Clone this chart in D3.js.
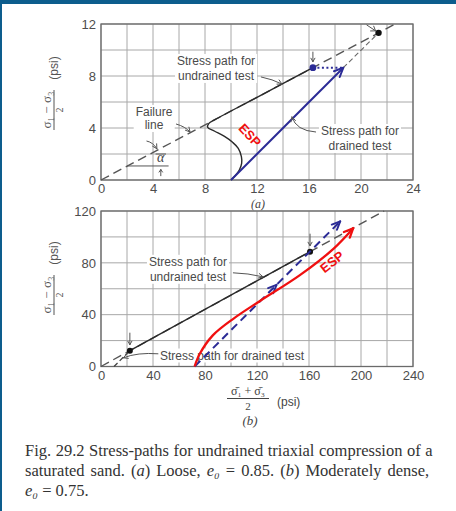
<!DOCTYPE html>
<html><head><meta charset="utf-8">
<script src="https://cdn.jsdelivr.net/npm/d3@7"></script>
<style>body{margin:0;background:#fff}svg{display:block}</style>
</head><body><svg id="c" width="456" height="511"></svg>
<script>
// ---- Panel (a): loose sand, e0 = 0.85 (psi) ----
const xTicksA = [0, 4, 8, 12, 16, 20, 24];
const yTicksA = [0, 4, 8, 12];
const failureA = [[0, 0], [22.64, 12]];
const undrainedA = [[10.0, 0], [10.31, 0.31], [10.64, 0.77], [10.82, 1.28], [10.8, 1.8], [10.56, 2.44],
  [10.12, 2.9], [9.5, 3.35], [8.75, 3.75], [8.2, 4.05], [8.3, 4.36], [8.8, 4.66], [12, 6.36], [16.3, 8.64]];
const drainedA = [[10, 0], [18.64, 8.64]];
const drainedExtA = [[18.64, 8.64], [21.35, 11.32]];
const shiftA = [[16.3, 8.64], [18.64, 8.64]];
const failUndrainedA = [16.3, 8.64];
const failDrainedA = [21.35, 11.32];

// ---- Panel (b): moderately dense sand, e0 = 0.75 (psi) ----
const xTicksB = [0, 40, 80, 120, 160, 200, 240];
const yTicksB = [0, 40, 80, 120];
const failureB = [[0, 0], [217.8, 120]];
const undrainedB = [[22.2, 12.2], [160.8, 88.6]];
const drainedB = [[10, 0], [22.2, 12.2]];
const espB = [[72, 0], [76, 9.8], [86, 24], [102, 37], [122, 50.4], [153, 70.5], [179, 91], [194, 106.7]];
const totalB = [[72, 0], [184, 112]];
const totalMidB = [[126, 54], [135, 63]];
const failPointsB = [[22.2, 12.2], [160.8, 88.6]];

const NAVY = '#2b2b96', RED = '#f01010', INK = '#4a4a4a', GRID = '#a8a8a8';
const svg = d3.select('#c');
svg.append('rect').attr('width', 456).attr('height', 511).attr('fill', '#fff');
svg.append('rect').attr('width', 456).attr('height', 4).attr('fill', '#0d5d8d');
svg.append('rect').attr('width', 2).attr('height', 511).attr('fill', '#0d5d8d');

function arrowHead(g, from, to, color, len = 9, ang = 24, w = 1.8) {
  const a = Math.atan2(to[1] - from[1], to[0] - from[0]);
  [-1, 1].forEach(s => {
    const b = a + Math.PI + s * ang * Math.PI / 180;
    g.append('line').attr('x1', to[0]).attr('y1', to[1])
      .attr('x2', to[0] + len * Math.cos(b)).attr('y2', to[1] + len * Math.sin(b))
      .attr('stroke', color).attr('stroke-width', w).attr('stroke-linecap', 'round');
  });
}

function label(g, lines, px, py, anchor = 'middle', lh = 15) {
  const t = g.append('text').attr('x', px).attr('y', py).attr('text-anchor', anchor)
    .attr('font-family', 'Liberation Sans, Arial, sans-serif').attr('font-size', 12).attr('fill', INK);
  lines.forEach((s, i) => t.append('tspan').attr('x', px).attr('dy', i ? lh : 0).text(s));
  const bb = t.node().getBBox();
  g.insert('rect', () => t.node()).attr('x', bb.x - 2).attr('y', bb.y).attr('width', bb.width + 4)
    .attr('height', bb.height).attr('fill', '#fff');
  return t;
}

function leader(g, p0, c, p1, headFrom) {
  g.append('path').attr('d', `M${p0[0]},${p0[1]}Q${c[0]},${c[1]} ${p1[0]},${p1[1]}`)
    .attr('fill', 'none').attr('stroke', '#555').attr('stroke-width', 1);
  arrowHead(g, headFrom || c, p1, '#555', 5, 28, 1);
}

function panel(xd, yd, yRange, xTicks, yTicks) {
  const x = d3.scaleLinear().domain(xd).range([101, 413]);
  const y = d3.scaleLinear().domain(yd).range(yRange);
  const g = svg.append('g');
  const grid = g.append('g').attr('stroke', GRID).attr('stroke-width', 1);
  x.ticks(12).forEach(v => grid.append('line').attr('x1', x(v)).attr('x2', x(v)).attr('y1', y(yd[0])).attr('y2', y(yd[1])));
  y.ticks(6).forEach(v => grid.append('line').attr('y1', y(v)).attr('y2', y(v)).attr('x1', x(xd[0])).attr('x2', x(xd[1])));
  const ax = g.append('g').attr('transform', `translate(0,${y(yd[0])})`)
    .call(d3.axisBottom(x).tickValues(xTicks).tickSize(0).tickPadding(4));
  const ay = g.append('g').attr('transform', `translate(${x(xd[0])},0)`)
    .call(d3.axisLeft(y).tickValues(yTicks).tickSize(0).tickPadding(5));
  [ax, ay].forEach(a => {
    a.select('.domain').remove();
    a.selectAll('text').attr('font-family', 'Liberation Sans, Arial, sans-serif').attr('font-size', 13).attr('fill', '#4d4d4d');
  });
  g.append('rect').attr('x', x(xd[0])).attr('y', y(yd[1])).attr('width', x(xd[1]) - x(xd[0]))
    .attr('height', y(yd[0]) - y(yd[1])).attr('fill', 'none').attr('stroke', '#6a6a6a').attr('stroke-width', 1.3);
  return { x, y, g };
}

const line = (x, y, curve) => d3.line().x(d => x(d[0])).y(d => y(d[1])).curve(curve || d3.curveLinear);

// ================= Panel (a) =================
{
  const { x, y, g } = panel([0, 24], [0, 12], [180, 24], xTicksA, yTicksA);
  const P = d => [x(d[0]), y(d[1])];
  label(g, ['Stress path for', 'undrained test'], x(8.85), y(8.85));
  label(g, ['Failure', 'line'], x(4.08), y(4.92), 'middle', 13);
  label(g, ['Stress path for', 'drained test'], x(19.92), y(3.46));

  g.append('path').attr('d', line(x, y)(failureA)).attr('fill', 'none').attr('stroke', '#555')
    .attr('stroke-width', 1.4).attr('stroke-dasharray', '9,5');
  g.append('path').attr('d', line(x, y)(drainedExtA)).attr('fill', 'none').attr('stroke', '#666')
    .attr('stroke-width', 1.1).attr('stroke-dasharray', '5,3');
  g.append('path').attr('d', line(x, y, d3.curveCatmullRom.alpha(0.5))(undrainedA)).attr('fill', 'none')
    .attr('stroke', '#2a2a2a').attr('stroke-width', 1.4);
  g.append('path').attr('d', line(x, y)(shiftA)).attr('fill', 'none').attr('stroke', NAVY)
    .attr('stroke-width', 2).attr('stroke-dasharray', '2,2.5');
  g.append('path').attr('d', line(x, y)(drainedA)).attr('fill', 'none').attr('stroke', NAVY).attr('stroke-width', 2);
  arrowHead(g, P(drainedA[0]), P(drainedA[1]), NAVY, 10, 24, 2);
  g.append('circle').attr('cx', x(failUndrainedA[0])).attr('cy', y(failUndrainedA[1])).attr('r', 3.4).attr('fill', NAVY);
  g.append('circle').attr('cx', x(failDrainedA[0])).attr('cy', y(failDrainedA[1])).attr('r', 3.2).attr('fill', '#111');

  // pointers to the failure points
  const up = [x(failUndrainedA[0]), y(failUndrainedA[1]) - 16], tip = [x(failUndrainedA[0]), y(failUndrainedA[1]) - 6];
  g.append('line').attr('x1', up[0]).attr('y1', up[1]).attr('x2', tip[0]).attr('y2', tip[1]).attr('stroke', '#555');
  arrowHead(g, up, tip, '#555', 4, 30, 1);
  const ul = [x(failDrainedA[0]) - 12, y(failDrainedA[1]) - 8], tl = [x(failDrainedA[0]) - 3, y(failDrainedA[1]) - 2];
  g.append('line').attr('x1', ul[0]).attr('y1', ul[1]).attr('x2', tl[0]).attr('y2', tl[1]).attr('stroke', '#555');
  arrowHead(g, ul, tl, '#555', 5, 35, 1);

  // leaders
  leader(g, [x(12.3), y(7.93)], [x(13.2), y(7.75)], [x(13.92), y(7.38)]);
  leader(g, [x(5.77), y(4.31)], [x(6.5), y(4.1)], [x(6.85), y(3.69)]);
  leader(g, [x(16.54), y(3.69)], [x(15.0), y(3.8)], [x(14.69), y(4.85)]);
  leader(g, [x(3.5), y(3.0)], [x(4.0), y(2.9)], [x(4.3), y(2.4)]);

  // angle of the failure line
  g.append('line').attr('x1', x(2.0)).attr('x2', x(5.2)).attr('y1', y(1.08)).attr('y2', y(1.08)).attr('stroke', '#555');
  g.append('text').attr('x', x(4.6)).attr('y', y(1.35)).attr('text-anchor', 'middle')
    .attr('font-family', 'Liberation Serif, serif').attr('font-style', 'italic').attr('font-size', 14)
    .attr('fill', '#444').text('α');
  g.append('line').attr('x1', x(4.2)).attr('x2', x(5.0)).attr('y1', y(2.0)).attr('y2', y(2.0)).attr('stroke', '#555');
  const a0 = [x(4.6), y(0.3)], a1 = [x(4.6), y(0.8)];
  g.append('line').attr('x1', a0[0]).attr('y1', a0[1]).attr('x2', a1[0]).attr('y2', a1[1]).attr('stroke', '#555');
  arrowHead(g, a0, a1, '#555', 3, 35, 1);

  g.append('text').attr('transform', `translate(${x(11.45)},${y(3.45)}) rotate(47)`).attr('text-anchor', 'middle')
    .attr('dy', '0.35em').attr('font-family', 'Liberation Sans, Arial, sans-serif').attr('font-weight', 'bold')
    .attr('font-size', 13).attr('fill', RED).text('ESP');

  g.append('text').attr('x', 258).attr('y', 208).attr('text-anchor', 'middle')
    .attr('font-family', 'Liberation Serif, serif').attr('font-style', 'italic').attr('font-size', 12)
    .attr('fill', '#444').text('(a)');
}

// ================= Panel (b) =================
{
  const { x, y, g } = panel([0, 240], [0, 120], [366.5, 211], xTicksB, yTicksB);
  const P = d => [x(d[0]), y(d[1])];
  label(g, ['Stress path for', 'undrained test'], x(66.9), y(77.7));
  label(g, ['Stress path for drained test'], x(45.4), y(5.4), 'start');

  g.append('path').attr('d', line(x, y)(failureB)).attr('fill', 'none').attr('stroke', '#555')
    .attr('stroke-width', 1.4).attr('stroke-dasharray', '9,5');
  g.append('path').attr('d', line(x, y)(drainedB)).attr('fill', 'none').attr('stroke', '#444')
    .attr('stroke-width', 1.3).attr('stroke-dasharray', '5,3');
  g.append('path').attr('d', line(x, y)(undrainedB)).attr('fill', 'none').attr('stroke', '#2a2a2a').attr('stroke-width', 1.4);
  failPointsB.forEach(p => {
    g.append('circle').attr('cx', x(p[0])).attr('cy', y(p[1])).attr('r', 3).attr('fill', '#111');
    const up = [x(p[0]), y(p[1]) - 18], tip = [x(p[0]), y(p[1]) - 6];
    g.append('line').attr('x1', up[0]).attr('y1', up[1]).attr('x2', tip[0]).attr('y2', tip[1]).attr('stroke', '#555');
    arrowHead(g, up, tip, '#555', 4, 30, 1);
  });

  leader(g, [x(101.5), y(72.3)], [x(113), y(72.0)], [x(124.6), y(69.2)]);
  leader(g, [x(44.1), y(9.8)], [x(28), y(11)], [x(17.2), y(6.7)]);

  g.append('path').attr('d', line(x, y)(totalB)).attr('fill', 'none').attr('stroke', NAVY)
    .attr('stroke-width', 2).attr('stroke-dasharray', '8,5');
  arrowHead(g, P(totalB[0]), P(totalB[1]), NAVY, 9, 24, 2);
  arrowHead(g, P(totalMidB[0]), P(totalMidB[1]), NAVY, 9, 24, 2);

  g.append('path').attr('d', line(x, y, d3.curveCatmullRom.alpha(0.5))(espB)).attr('fill', 'none')
    .attr('stroke', RED).attr('stroke-width', 2.3);
  arrowHead(g, P(espB[espB.length - 2]), P(espB[espB.length - 1]), RED, 10, 24, 2.3);

  g.append('text').attr('transform', `translate(${x(177.7)},${y(80.8)}) rotate(-38)`).attr('text-anchor', 'middle')
    .attr('dy', '0.35em').attr('font-family', 'Liberation Sans, Arial, sans-serif').attr('font-weight', 'bold')
    .attr('font-size', 13).attr('fill', RED).text('ESP');

  // x-axis title
  const xt = svg.append('g').attr('font-family', 'Liberation Serif, serif').attr('fill', '#444');
  xt.append('text').attr('x', 248).attr('y', 395).attr('text-anchor', 'middle').attr('font-size', 12).text('σ̄₁ + σ̄₃');
  xt.append('line').attr('x1', 227).attr('x2', 269).attr('y1', 398.5).attr('y2', 398.5).attr('stroke', '#444');
  xt.append('text').attr('x', 248).attr('y', 410).attr('text-anchor', 'middle').attr('font-size', 11).text('2');
  xt.append('text').attr('x', 277).attr('y', 406).attr('font-family', 'Liberation Sans, Arial, sans-serif')
    .attr('font-size', 12).text('(psi)');
  xt.append('text').attr('x', 250).attr('y', 425).attr('text-anchor', 'middle').attr('font-style', 'italic')
    .attr('font-size', 13).text('(b)');
}

// y-axis titles
[110, 295].forEach(cy => {
  const g = svg.append('g').attr('transform', `translate(54,${cy}) rotate(-90)`).attr('fill', '#555');
  g.append('text').attr('x', 0).attr('y', -3).attr('text-anchor', 'middle')
    .attr('font-family', 'Liberation Serif, serif').attr('font-size', 13).text('σ₁ − σ₃');
  g.append('line').attr('x1', -20).attr('x2', 20).attr('y1', 0).attr('y2', 0).attr('stroke', '#555');
  g.append('text').attr('x', 0).attr('y', 9).attr('text-anchor', 'middle')
    .attr('font-family', 'Liberation Serif, serif').attr('font-size', 10).text('2');
  g.append('text').attr('x', 42).attr('y', 4).attr('text-anchor', 'middle')
    .attr('font-family', 'Liberation Sans, Arial, sans-serif').attr('font-size', 12).text('(psi)');
});

// caption, justified to a 408 px column by stretching the word spaces
const cap = svg.append('g').attr('font-family', 'Liberation Serif, Times New Roman, serif')
  .attr('font-size', 16.5).attr('fill', '#333');
function justify(t, width) {
  const spaces = (t.text().match(/ /g) || []).length;
  const extra = width - t.node().getComputedTextLength();
  if (spaces && extra > 0) t.attr('word-spacing', extra / spaces);
  else if (extra < 0) t.attr('textLength', width).attr('lengthAdjust', 'spacingAndGlyphs');
}
const l1 = cap.append('text').attr('x', 25).attr('y', 456);
l1.text('Fig. 29.2  Stress-paths for undrained triaxial compression of a');
justify(l1, 408);
const l2 = cap.append('text').attr('x', 25).attr('y', 476);
l2.append('tspan').text('saturated sand.  (');
l2.append('tspan').attr('font-style', 'italic').text('a');
l2.append('tspan').text(') Loose, ');
l2.append('tspan').attr('font-style', 'italic').text('e₀');
l2.append('tspan').text(' = 0.85.  (');
l2.append('tspan').attr('font-style', 'italic').text('b');
l2.append('tspan').text(') Moderately dense,');
justify(l2, 408);
const l3 = cap.append('text').attr('x', 25).attr('y', 496);
l3.append('tspan').attr('font-style', 'italic').text('e₀');
l3.append('tspan').text(' = 0.75.');
</script></body></html>
